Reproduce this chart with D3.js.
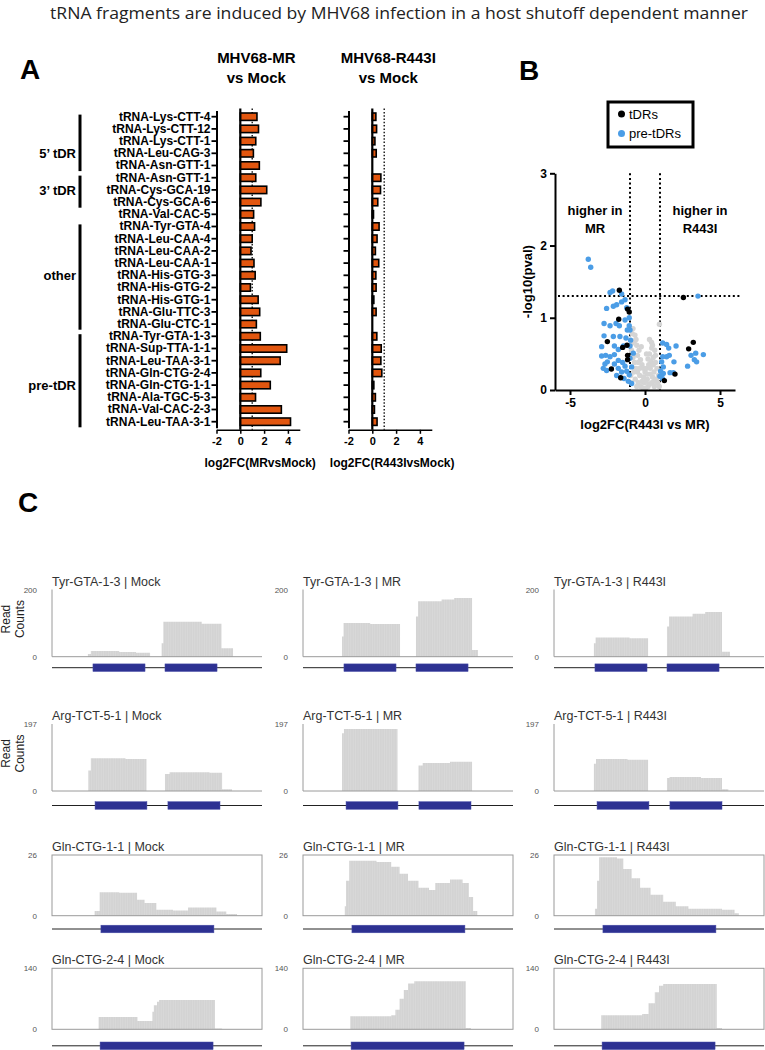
<!DOCTYPE html>
<html lang="en">
<head>
<meta charset="UTF-8">
<title>tRNA fragments</title>
<script src="https://d3js.org/d3.v7.min.js"></script>
<style>
  body { margin: 0; padding: 0; background: #fff; }
  text { font-family: "Liberation Sans", Arial, sans-serif; }
</style>
</head>
<body>
<script>
// ---------------- data ----------------
const trnaNames = [
  "tRNA-Lys-CTT-4", "tRNA-Lys-CTT-12", "tRNA-Lys-CTT-1", "tRNA-Leu-CAG-3", "tRNA-Asn-GTT-1",
  "tRNA-Asn-GTT-1", "tRNA-Cys-GCA-19", "tRNA-Cys-GCA-6", "tRNA-Val-CAC-5", "tRNA-Tyr-GTA-4",
  "tRNA-Leu-CAA-4", "tRNA-Leu-CAA-2", "tRNA-Leu-CAA-1", "tRNA-His-GTG-3", "tRNA-His-GTG-2",
  "tRNA-His-GTG-1", "tRNA-Glu-TTC-3", "tRNA-Glu-CTC-1", "tRNA-Tyr-GTA-1-3", "tRNA-Sup-TTA-1-1",
  "tRNA-Leu-TAA-3-1", "tRNA-Gln-CTG-2-4", "tRNA-Gln-CTG-1-1", "tRNA-Ala-TGC-5-3", "tRNA-Val-CAC-2-3",
  "tRNA-Leu-TAA-3-1"
];
const fcMR = [1.4, 1.53, 1.3, 1.1, 1.6, 1.3, 2.22, 1.73, 1.12, 1.2,
  1.0, 0.9, 1.15, 1.25, 0.85, 1.5, 1.63, 1.35, 1.68, 3.9,
  3.35, 1.72, 2.52, 1.28, 3.45, 4.22];
const fcR443I = [0.3, 0.36, 0.22, 0.33, 0.0, 0.72, 0.69, 0.46, 0.1, 0.57,
  0.4, 0.26, 0.54, 0.3, 0.32, 0.13, 0.32, 0.0, 0.38, 0.75,
  0.72, 0.8, 0.13, 0.26, 0.18, 0.4];
// row groups: first row, last row, row the label sits on
const groupNames = ["5\u2019 tDR", "3\u2019 tDR", "other", "pre-tDR"];
const groupRows = [[0, 4, 3], [5, 7, 6], [9, 17, 13], [18, 25, 22]];
const fcTicks = [-2, 0, 2, 4];

// volcano: [log2FC(R443I vs MR), -log10(pval)]
const tdrPoints = [
  [-1.71, 1.38], [-1.16, 1.12], [-1.05, 1.08], [-1.75, 0.98], [-2.51, 0.67], [-1.2, 0.62],
  [-1.49, 0.59], [-1.16, 0.48], [-1.16, 0.42], [-2.24, 0.29], [-1.62, 0.17],
  [2.56, 1.28], [3.22, 0.66], [2.91, 0.57], [2.0, 0.22], [1.29, 0.13]
];
const preTdrPoints = [
  [-3.78, 1.81], [-3.62, 1.70], [-2.33, 1.35], [-2.16, 1.37], [-1.56, 1.33], [-1.33, 1.25],
  [-1.56, 1.22], [-1.89, 1.18], [-2.11, 1.16], [-2.56, 1.13], [-1.22, 1.14], [-1.05, 1.0],
  [-2.73, 0.92], [-2.33, 0.89], [-1.93, 0.92], [-1.71, 0.89], [-1.33, 0.97], [-1.05, 0.89],
  [-1.0, 0.83], [-2.73, 0.75], [-2.11, 0.74], [-1.67, 0.74], [-1.27, 0.72], [-0.96, 0.69],
  [-2.89, 0.60], [-2.04, 0.61], [-1.78, 0.56], [-1.44, 0.61], [-1.0, 0.61], [-2.89, 0.47],
  [-2.62, 0.48], [-2.33, 0.46], [-2.04, 0.49], [-1.78, 0.41], [-1.49, 0.38], [-1.33, 0.33],
  [-1.0, 0.44], [-2.67, 0.36], [-2.51, 0.39], [-2.04, 0.36], [-1.78, 0.30], [-2.78, 0.30],
  [-2.56, 0.27], [-1.89, 0.20], [-1.56, 0.25], [-1.22, 0.26], [-1.05, 0.21], [-1.4, 0.16],
  [-1.11, 0.12], [-0.89, 0.09], [-0.89, 0.32], [-0.78, 0.51], [-1.18, 0.83],
  [3.53, 1.30], [1.18, 0.65], [1.44, 0.63], [1.58, 0.58], [2.07, 0.61], [1.18, 0.46],
  [1.44, 0.46], [1.62, 0.48], [1.11, 0.39], [1.93, 0.39], [1.22, 0.32], [1.04, 0.26],
  [1.22, 0.23], [1.67, 0.24], [1.89, 0.24], [0.99, 0.19], [1.16, 0.16], [3.07, 0.48],
  [3.38, 0.51], [3.89, 0.49], [3.29, 0.42], [3.44, 0.39], [2.84, 0.33]
];
const otherPoints = [
  [0.96, 0.91], [0.44, 0.66], [0.45, 0.58], [0.3, 0.5], [0.2, 0.43], [-0.67, 0.76], [-0.55, 0.62],
  [-0.4, 0.55], [-0.8, 0.85], [-0.7, 0.68], [-0.5, 0.48], [-0.3, 0.42], [-0.2, 0.35], [-0.1, 0.3],
  [0.0, 0.25], [0.1, 0.3], [0.25, 0.35], [0.4, 0.4], [0.55, 0.45], [0.7, 0.38], [0.8, 0.3],
  [0.9, 0.2], [0.6, 0.25], [0.5, 0.18], [0.35, 0.22], [0.15, 0.15], [-0.05, 0.1], [-0.2, 0.12],
  [-0.35, 0.2], [-0.5, 0.25], [-0.6, 0.3], [-0.7, 0.38], [-0.8, 0.45], [-0.9, 0.55], [-0.85, 0.65],
  [-0.75, 0.25], [-0.65, 0.15], [-0.45, 0.1], [-0.3, 0.05], [-0.15, 0.03], [0.05, 0.02], [0.2, 0.05],
  [0.3, 0.08], [0.45, 0.1], [0.6, 0.12], [0.75, 0.15], [0.85, 0.1], [0.95, 0.05], [-0.95, 0.2],
  [-0.9, 0.1], [0.65, 0.55], [0.5, 0.62], [0.3, 0.7], [-0.25, 0.6], [0.1, 0.5],
  [-0.85, 0.78], [-0.6, 0.7], [-0.45, 0.38], [-0.35, 0.3], [0.35, 0.3], [0.55, 0.35],
  [0.7, 0.48], [0.15, 0.22], [-0.1, 0.18], [0.05, 0.12], [-0.55, 0.05], [0.62, 0.05]
];
const volcanoXTicks = [-5, 0, 5];
const volcanoYTicks = [0, 1, 2, 3];

// read coverage tracks: [position (0-100), read count], step after
const tyrMock = [[17.1, 8], [18.5, 17], [26, 17], [32, 14], [40, 12], [46.7, 0], [52.2, 40], [53, 104], [71.3, 98], [80.7, 25], [86.2, 0]];
const tyrMR = [[18.6, 60], [19.3, 100], [32, 97], [46.2, 0], [53.8, 120], [54.8, 165], [66, 170], [72, 175], [80.5, 20], [83.3, 0]];
const tyrR443I = [[19, 40], [19.8, 57], [36, 55], [44.8, 0], [53.8, 90], [54.8, 120], [66, 128], [72, 133], [80, 15], [83.8, 0]];
const argMock = [[17.3, 60], [18.5, 96], [35, 94], [45, 0], [53.8, 50], [56, 55], [75, 54], [81, 5], [85.7, 0]];
const argMR = [[18.6, 170], [19.5, 182], [45, 0], [55, 75], [57, 82], [70, 86], [80.5, 0]];
const argR443I = [[19, 80], [20, 94], [35, 92], [44.8, 0], [53.8, 38], [55, 41], [70, 38], [80, 5], [83, 0]];
const glnAMock = [[20.3, 2], [22.7, 10], [32, 9.8], [40.5, 6.8], [44.1, 5.4], [49.7, 2.6], [57.6, 2.2], [64.8, 3.5], [78.3, 1.8], [83, 0.7], [88.1, 0]];
const glnAMR = [[19.9, 4], [20.5, 15], [22, 23.5], [35, 23], [42, 21], [46, 18], [50, 15], [55, 12], [60, 11], [63, 14], [70, 15.5], [76, 14], [79, 8], [81, 2], [83, 0]];
const glnAR443I = [[19.5, 3], [20.5, 15], [21.5, 25], [30, 24.5], [33, 20], [37, 16], [41, 12], [46, 9], [52, 6], [58, 4], [64, 3], [80, 2.5], [86, 1], [88, 0]];
const glnBMock = [[22.2, 28], [40.7, 19], [47.8, 40], [48.5, 55], [50, 63], [51, 67], [77.6, 2], [81, 0]];
const glnBMR = [[22.5, 30], [42, 32], [44, 45], [46, 70], [48, 90], [50, 105], [53, 110], [77.5, 3], [80, 0]];
const glnBR443I = [[22.5, 32], [42, 35], [45, 60], [48, 85], [50, 100], [52, 104], [77.5, 3], [80, 0]];
// exons of each gene model: [start, end] in the same 0-100 positions
const tyrExons = [[19.5, 44.3], [53.8, 78.6]];
const argExons = [[20.5, 45.2], [55.2, 80]];
const glnAExons = [[23.3, 77.1]];
const glnBExons = [[22.9, 76.7]];
const conditions = ["Mock", "MR", "R443I"];

// ---------------- canvas ----------------
const width = 765, height = 1050;
const svg = d3.select("body").append("svg")
  .attr("width", width).attr("height", height)
  .style("background", "#fff");

svg.append("text")
  .attr("x", 50).attr("y", 19)
  .attr("textLength", 698).attr("lengthAdjust", "spacingAndGlyphs")
  .style("font-family", "'Open Sans', sans-serif")
  .style("font-size", "16px").attr("fill", "#222")
  .text("tRNA fragments are induced by MHV68 infection in a host shutoff dependent manner");

function panelLetter(t, x, y) {
  svg.append("text").attr("x", x).attr("y", y)
    .style("font-size", "28px").style("font-weight", "bold").text(t);
}
panelLetter("A", 20, 79);
panelLetter("B", 519, 80);
panelLetter("C", 18, 512);

// ---------------- panel A ----------------
const rows = d3.scaleBand().domain(d3.range(trnaNames.length)).range([110.6, 427.8]);

function barChart(x0, values, title, axisTitle, showLabels) {
  const x = d3.scaleLinear().domain([-2, 5]).range([x0, x0 + 7 * 11.9]);
  const g = svg.append("g");

  g.append("text").attr("x", x(0) + 16).attr("y", 63).attr("text-anchor", "middle")
    .style("font-size", "15px").style("font-weight", "bold").text(title);
  g.append("text").attr("x", x(0) + 16).attr("y", 82.5).attr("text-anchor", "middle")
    .style("font-size", "15px").style("font-weight", "bold").text("vs Mock");

  // dotted threshold at log2FC = 1
  g.append("line").attr("x1", x(1)).attr("x2", x(1))
    .attr("y1", rows.range()[0] - 2).attr("y2", rows.range()[1] + 2)
    .attr("stroke", "#000").attr("stroke-width", 1.3).attr("stroke-dasharray", "1.5,1.8");

  g.selectAll("rect.bar").data(values).join("rect")
    .attr("class", "bar")
    .attr("x", d => x(Math.min(0, d)))
    .attr("y", (d, i) => rows(i) + 2.4)
    .attr("width", d => Math.abs(x(d) - x(0)))
    .attr("height", rows.bandwidth() - 4.8)
    .attr("fill", "#e2560f").attr("stroke", "#000").attr("stroke-width", 1.6);

  // zero line
  g.append("line").attr("x1", x(0)).attr("x2", x(0))
    .attr("y1", rows.range()[0] - 2).attr("y2", rows.range()[1] + 2)
    .attr("stroke", "#000").attr("stroke-width", 2.2);

  // category axis
  const ya = g.append("g").attr("transform", `translate(${x(-2)},0)`)
    .call(d3.axisLeft(rows).tickSize(5).tickSizeOuter(0)
      .tickFormat(i => showLabels ? trnaNames[i] : ""));
  ya.select(".domain").attr("stroke-width", 2);
  ya.selectAll(".tick line").attr("stroke-width", 1.8);
  ya.selectAll(".tick text").attr("x", -6)
    .style("font-family", "'Liberation Sans', Arial, sans-serif")
    .style("font-size", "12px").style("font-weight", "bold").attr("fill", "#000");

  const xa = g.append("g").attr("transform", `translate(0,${rows.range()[1] + 2})`)
    .call(d3.axisBottom(x).tickValues(fcTicks).tickSize(4).tickSizeOuter(0)
      .tickFormat(d => String(d)));
  xa.select(".domain").attr("stroke-width", 1.5);
  xa.selectAll(".tick line").attr("stroke-width", 1.5);
  xa.selectAll(".tick text")
    .style("font-family", "'Liberation Sans', Arial, sans-serif")
    .style("font-size", "11px").style("font-weight", "bold").attr("fill", "#000");

  g.append("text").attr("x", (x(-2) + x(5)) / 2 + 2).attr("y", 467).attr("text-anchor", "middle")
    .style("font-size", "12px").style("font-weight", "bold").text(axisTitle);
}
barChart(216.5, fcMR, "MHV68-MR", "log2FC(MRvsMock)", true);
barChart(348.5, fcR443I, "MHV68-R443I", "log2FC(R443IvsMock)", false);

// group brackets
groupNames.forEach((name, k) => {
  const [a, b, lab] = groupRows[k];
  svg.append("line").attr("x1", 80).attr("x2", 80)
    .attr("y1", rows(a) + 4).attr("y2", rows(b) + rows.bandwidth() - 0.5)
    .attr("stroke", "#000").attr("stroke-width", 3);
  svg.append("text").attr("x", 76).attr("y", rows(lab) + rows.bandwidth() / 2 + 5)
    .attr("text-anchor", "end")
    .style("font-size", "13px").style("font-weight", "bold").text(name);
});

// ---------------- panel B ----------------
const xV = d3.scaleLinear().domain([-6, 6]).range([555, 735]);
const yV = d3.scaleLinear().domain([0, 3]).range([390, 173.3]);
const gB = svg.append("g");

const dotted = { stroke: "#000", "stroke-width": 2, "stroke-dasharray": "2,2.6" };
function dline(x1, y1, x2, y2) {
  const l = gB.append("line").attr("x1", x1).attr("y1", y1).attr("x2", x2).attr("y2", y2);
  Object.entries(dotted).forEach(([k, v]) => l.attr(k, v));
}
dline(xV(-1), yV(3), xV(-1), yV(0));
dline(xV(1), yV(3), xV(1), yV(0));
dline(xV(-6) + 3, yV(1.3), xV(6) + 6, yV(1.3));

gB.selectAll("circle.other").data(otherPoints).join("circle").attr("class", "other")
  .attr("cx", d => xV(d[0])).attr("cy", d => yV(d[1])).attr("r", 2.7).attr("fill", "#d4d4d4");
gB.selectAll("circle.pre").data(preTdrPoints).join("circle").attr("class", "pre")
  .attr("cx", d => xV(d[0])).attr("cy", d => yV(d[1])).attr("r", 2.7).attr("fill", "#4b9de6");
gB.selectAll("circle.tdr").data(tdrPoints).join("circle").attr("class", "tdr")
  .attr("cx", d => xV(d[0])).attr("cy", d => yV(d[1])).attr("r", 2.7).attr("fill", "#000");

const yAx = gB.append("g").attr("transform", `translate(${xV(-6)},0)`)
  .call(d3.axisLeft(yV).tickValues(volcanoYTicks).tickSize(5).tickSizeOuter(0).tickFormat(d3.format("d")));
const xAx = gB.append("g").attr("transform", `translate(0,${yV(0)})`)
  .call(d3.axisBottom(xV).tickValues(volcanoXTicks).tickSize(5).tickSizeOuter(0)
    .tickFormat(d => String(d)));
[yAx, xAx].forEach(a => {
  a.select(".domain").attr("stroke-width", 2);
  a.selectAll(".tick line").attr("stroke-width", 2);
  a.selectAll(".tick text")
    .style("font-family", "'Liberation Sans', Arial, sans-serif")
    .style("font-size", "12px").style("font-weight", "bold").attr("fill", "#000");
});

gB.append("text").attr("transform", `translate(532,${(yV(0) + yV(3)) / 2}) rotate(-90)`)
  .attr("text-anchor", "middle").style("font-size", "13px").style("font-weight", "bold")
  .text("-log10(pval)");
gB.append("text").attr("x", xV(0)).attr("y", 429).attr("text-anchor", "middle")
  .style("font-size", "13px").style("font-weight", "bold").text("log2FC(R443I vs MR)");

[["higher in", "MR", 595], ["higher in", "R443I", 700]].forEach(([a, b, cx]) => {
  gB.append("text").attr("x", cx).attr("y", 215).attr("text-anchor", "middle")
    .style("font-size", "13px").style("font-weight", "bold").text(a);
  gB.append("text").attr("x", cx).attr("y", 233).attr("text-anchor", "middle")
    .style("font-size", "13px").style("font-weight", "bold").text(b);
});

// legend
gB.append("rect").attr("x", 608).attr("y", 102).attr("width", 85).attr("height", 45)
  .attr("fill", "none").attr("stroke", "#000").attr("stroke-width", 3);
[["tDRs", "#000", 114], ["pre-tDRs", "#4b9de6", 133.5]].forEach(([t, c, y]) => {
  gB.append("circle").attr("cx", 621.5).attr("cy", y).attr("r", 3.5).attr("fill", c);
  gB.append("text").attr("x", 629).attr("y", y + 4.5).style("font-size", "13px").text(t);
});

// ---------------- panel C ----------------
const colLeft = [52, 303, 554];
const trackW = 210;
const trackRows = [
  { gene: "Tyr-GTA-1-3", max: 200, top: 589.5, h: 67.2, box: false, geneGap: 11, exons: tyrExons, tracks: [tyrMock, tyrMR, tyrR443I] },
  { gene: "Arg-TCT-5-1", max: 197, top: 724, h: 67, box: false, geneGap: 14.5, exons: argExons, tracks: [argMock, argMR, argR443I] },
  { gene: "Gln-CTG-1-1", max: 26, top: 855, h: 60.7, box: true, geneGap: 13.3, exons: glnAExons, tracks: [glnAMock, glnAMR, glnAR443I] },
  { gene: "Gln-CTG-2-4", max: 140, top: 968.3, h: 61, box: true, geneGap: 16.5, exons: glnBExons, tracks: [glnBMock, glnBMR, glnBR443I] }
];

const defs = svg.append("defs");
const pat = defs.append("pattern").attr("id", "stripes").attr("patternUnits", "userSpaceOnUse")
  .attr("width", 2.4).attr("height", 10);
pat.append("rect").attr("width", 2.4).attr("height", 10).attr("fill", "#d3d3d3");
pat.append("rect").attr("width", 0.6).attr("height", 10).attr("fill", "#dcdcdc");

trackRows.forEach((row, r) => {
  const base = row.top + row.h;
  const y = d3.scaleLinear().domain([0, row.max]).range([base, row.top]);
  conditions.forEach((cond, c) => {
    const left = colLeft[c];
    const x = d3.scaleLinear().domain([0, 100]).range([left, left + trackW]);
    const g = svg.append("g");

    g.append("text").attr("x", left).attr("y", row.top - 4)
      .style("font-size", "12.5px").attr("fill", "#333").text(`${row.gene} | ${cond}`);
    g.append("text").attr("x", left - 15).attr("y", row.top + 3).attr("text-anchor", "end")
      .style("font-size", "8px").attr("fill", "#555").text(row.max);
    g.append("text").attr("x", left - 15).attr("y", base + 3).attr("text-anchor", "end")
      .style("font-size", "8px").attr("fill", "#555").text(0);

    const area = d3.area().curve(d3.curveStepAfter)
      .x(d => x(d[0])).y0(base).y1(d => y(d[1]));
    g.append("path").datum(row.tracks[c]).attr("d", area).attr("fill", "url(#stripes)");

    if (row.box) {
      g.append("rect").attr("x", left).attr("y", row.top).attr("width", trackW).attr("height", row.h)
        .attr("fill", "none").attr("stroke", "#9a9a9a").attr("stroke-width", 1);
    } else {
      g.append("path").attr("d", `M${left},${row.top}V${base}H${left + trackW}`)
        .attr("fill", "none").attr("stroke", "#9a9a9a").attr("stroke-width", 1);
    }

    // gene model
    const gy = base + row.geneGap;
    g.append("line").attr("x1", left).attr("x2", left + trackW).attr("y1", gy).attr("y2", gy)
      .attr("stroke", "#222").attr("stroke-width", 1);
    g.selectAll("rect.exon").data(row.exons).join("rect").attr("class", "exon")
      .attr("x", d => x(d[0])).attr("width", d => x(d[1]) - x(d[0]))
      .attr("y", gy - 3.8).attr("height", 7.6)
      .attr("fill", "#2d3192").attr("stroke", "#4a4fa8").attr("stroke-width", 0.5);

    if (c === 0 && r < 2) {
      const cy = row.top + row.h / 2 - 4;
      g.append("text").attr("transform", `translate(10,${cy}) rotate(-90)`).attr("text-anchor", "middle")
        .style("font-size", "12px").attr("fill", "#222").text("Read");
      g.append("text").attr("transform", `translate(24,${cy}) rotate(-90)`).attr("text-anchor", "middle")
        .style("font-size", "12px").attr("fill", "#222").text("Counts");
    }
  });
});
</script>
</body>
</html>
